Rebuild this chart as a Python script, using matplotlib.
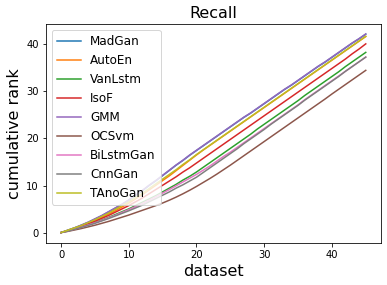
import matplotlib
matplotlib.use("Agg")
import matplotlib.pyplot as plt
import numpy as np

datasets = list(range(46))

madgan = [0.1, 0.6, 1.1, 1.65, 2.25, 2.95, 3.65, 4.45, 5.25, 6.05, 6.95, 7.95, 8.95, 10.05, 11.05, 12.15,
          13.25, 14.35, 15.35, 16.45, 17.45, 18.45, 19.45, 20.45, 21.45, 22.45, 23.45, 24.45, 25.35, 26.35,
          27.35, 28.35, 29.35, 30.35, 31.25, 32.25, 33.25, 34.25, 35.25, 36.15, 37.15, 38.15, 39.15, 40.15,
          41.05, 42.05]
autoen = [0.1, 0.55, 1.05, 1.55, 2.1, 2.65, 3.3, 4.0, 4.7, 5.5, 6.3, 7.2, 8.1, 9.1, 10.1, 11.1,
          12.1, 13.2, 14.3, 15.4, 16.5, 17.55, 18.55, 19.55, 20.55, 21.55, 22.55, 23.55, 24.55, 25.55,
          26.55, 27.55, 28.55, 29.55, 30.55, 31.55, 32.55, 33.55, 34.55, 35.55, 36.55, 37.55, 38.55, 39.55,
          40.55, 41.55]
vanlstm = [0.1, 0.45, 0.85, 1.3, 1.75, 2.25, 2.75, 3.3, 3.9, 4.5, 5.1, 5.8, 6.5, 7.2, 7.9, 8.7,
           9.5, 10.3, 11.2, 12.0, 12.9, 13.9, 14.9, 15.9, 16.9, 17.9, 18.9, 19.9, 20.9, 22.0,
           23.0, 24.0, 25.0, 26.0, 27.0, 28.0, 29.1, 30.1, 31.1, 32.1, 33.1, 34.1, 35.2, 36.2,
           37.2, 38.2]
isof = [0.1, 0.5, 0.95, 1.45, 1.95, 2.5, 3.1, 3.7, 4.4, 5.1, 5.8, 6.6, 7.4, 8.3, 9.2, 10.1,
        11.0, 11.9, 12.9, 13.8, 14.8, 15.8, 16.8, 17.8, 18.8, 19.8, 20.8, 21.8, 22.8, 23.8,
        24.8, 25.8, 26.8, 27.8, 28.8, 29.8, 30.8, 31.8, 32.8, 33.8, 34.8, 35.8, 36.8, 37.9,
        38.9, 40.0]
gmm = [0.1, 0.6, 1.1, 1.7, 2.3, 3.0, 3.7, 4.5, 5.3, 6.1, 7.0, 8.0, 9.0, 10.1, 11.1, 12.2,
       13.3, 14.4, 15.4, 16.5, 17.5, 18.5, 19.5, 20.5, 21.5, 22.5, 23.5, 24.5, 25.4, 26.4,
       27.4, 28.4, 29.4, 30.4, 31.3, 32.3, 33.3, 34.3, 35.3, 36.2, 37.2, 38.2, 39.2, 40.2,
       41.1, 42.1]
ocsvm = [0.1, 0.35, 0.65, 0.95, 1.3, 1.65, 2.05, 2.45, 2.9, 3.35, 3.8, 4.3, 4.8, 5.3, 5.8, 6.35,
         6.95, 7.6, 8.3, 9.05, 9.85, 10.7, 11.55, 12.45, 13.4, 14.35, 15.35, 16.35, 17.35, 18.35,
         19.35, 20.35, 21.35, 22.35, 23.35, 24.35, 25.35, 26.35, 27.35, 28.35, 29.4, 30.4, 31.4, 32.4,
         33.4, 34.4]
bilstmgan = [0.1, 0.45, 0.85, 1.25, 1.7, 2.15, 2.65, 3.2, 3.75, 4.35, 4.95, 5.6, 6.25, 6.95, 7.7, 8.45,
             9.2, 10.0, 10.8, 11.6, 12.4, 13.3, 14.2, 15.2, 16.2, 17.1, 18.1, 19.1, 20.1, 21.1,
             22.1, 23.1, 24.1, 25.1, 26.1, 27.1, 28.2, 29.2, 30.2, 31.2, 32.2, 33.2, 34.2, 35.2,
             36.2, 37.2]
cnngan = [0.1, 0.4, 0.8, 1.2, 1.6, 2.05, 2.55, 3.05, 3.6, 4.15, 4.7, 5.3, 5.9, 6.6, 7.3, 8.0,
          8.7, 9.5, 10.2, 11.0, 11.8, 12.8, 13.8, 14.8, 15.8, 16.8, 17.8, 18.9, 19.9, 20.9,
          21.9, 23.0, 24.0, 25.0, 26.0, 27.0, 28.1, 29.1, 30.1, 31.1, 32.1, 33.1, 34.2, 35.2,
          36.2, 37.2]
tanogan = [0.1, 0.6, 1.1, 1.6, 2.2, 2.8, 3.5, 4.2, 5.0, 5.8, 6.6, 7.5, 8.4, 9.4, 10.4, 11.4,
           12.4, 13.4, 14.5, 15.5, 16.6, 17.6, 18.6, 19.6, 20.6, 21.6, 22.6, 23.6, 24.6, 25.6,
           26.6, 27.6, 28.6, 29.6, 30.6, 31.6, 32.6, 33.6, 34.6, 35.6, 36.6, 37.6, 38.6, 39.6,
           40.6, 41.6]

names = ["MadGan", "AutoEn", "VanLstm", "IsoF", "GMM", "OCSvm", "BiLstmGan", "CnnGan", "TAnoGan"]
series = [madgan, autoen, vanlstm, isof, gmm, ocsvm, bilstmgan, cnngan, tanogan]

fig = plt.figure(figsize=(387 / 72, 285 / 72), dpi=72)
ax = fig.add_axes([45.8 / 387, (285 - 242.5) / 285, (381 - 45.8) / 387, (242.5 - 24) / 285])
for name, vals in zip(names, series):
    ax.plot(datasets, vals, label=name)

ax.set_title("Recall", fontsize=16)
ax.set_xlabel("dataset", fontsize=16)
ax.set_ylabel("cumulative rank", fontsize=16)
ax.tick_params(labelsize=10)
ax.legend(loc="upper left", fontsize=12)

fig.savefig("out.png", dpi=72)
